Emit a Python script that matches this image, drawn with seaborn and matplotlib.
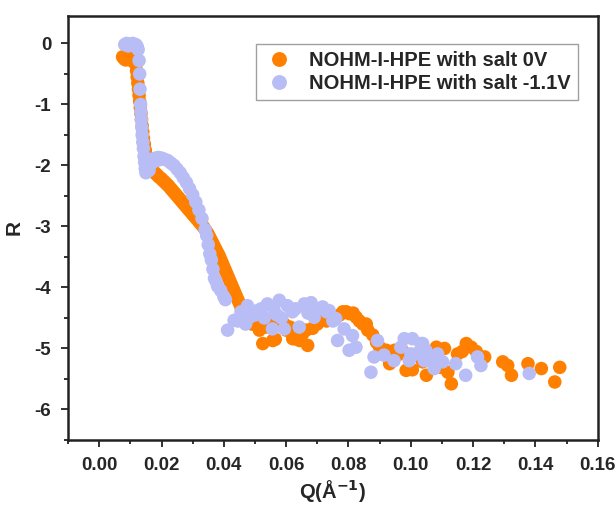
import matplotlib
matplotlib.use("Agg")
import matplotlib.pyplot as plt
import seaborn as sns
import pandas as pd
from matplotlib.ticker import MultipleLocator

# ---- data ----
q_0v = [0.0075, 0.0080, 0.0085, 0.0090, 0.0095, 0.0100, 0.0105, 0.0110,
        0.0118, 0.0120, 0.0122, 0.0124, 0.0126, 0.0128, 0.0130, 0.0132, 0.0134,
        0.0136, 0.0138, 0.0140, 0.0142, 0.0145, 0.0148, 0.0152, 0.0156,
        0.0160, 0.0165, 0.0170, 0.0175, 0.0180, 0.0185, 0.0190, 0.0195,
        0.0200, 0.0205, 0.0210, 0.0215, 0.0220, 0.0225, 0.0230, 0.0235,
        0.0240, 0.0245, 0.0250, 0.0255, 0.0260, 0.0265, 0.0270, 0.0275,
        0.0280, 0.0285, 0.0290, 0.0295, 0.0300, 0.0305, 0.0310, 0.0315,
        0.0320, 0.0325, 0.0330, 0.0335, 0.0340, 0.0345, 0.0350, 0.0355,
        0.0360, 0.0365, 0.0370, 0.0375, 0.0380, 0.0385, 0.0390, 0.0395,
        0.0400, 0.0405, 0.0410, 0.0415, 0.0420, 0.0425, 0.0430, 0.0435,
        0.0440, 0.0445, 0.0450, 0.0455, 0.0460, 0.0465, 0.0470, 0.0480,
        0.0490, 0.0505, 0.0514, 0.0525, 0.0535, 0.0546, 0.0557, 0.0565,
        0.0578, 0.0594, 0.0600, 0.0612, 0.0621, 0.0627, 0.0643, 0.0653,
        0.0664, 0.0669, 0.0685, 0.0700, 0.0717, 0.0730, 0.0749, 0.0760,
        0.0772, 0.0782, 0.0793, 0.0803, 0.0815, 0.0825, 0.0835, 0.0846,
        0.0857, 0.0862, 0.0878, 0.0890, 0.0900, 0.0921, 0.0932, 0.0948,
        0.0960, 0.0975, 0.0985, 0.0996, 0.1005, 0.1038, 0.1050, 0.1070,
        0.1082, 0.1097, 0.1108, 0.1119, 0.1130, 0.1150, 0.1165, 0.1178,
        0.1194, 0.1210, 0.1237, 0.1295, 0.1311, 0.1323, 0.1376, 0.1419,
        0.1462, 0.1478]
r_0v = [-0.22, -0.25, -0.27, -0.25, -0.26, -0.27, -0.25, -0.30,
        -0.35, -0.45, -0.55, -0.65, -0.75, -0.85, -0.95, -1.05, -1.15,
        -1.25, -1.35, -1.45, -1.55, -1.65, -1.75, -1.85, -1.92,
        -2.00, -2.04, -2.08, -2.10, -2.13, -2.15, -2.18, -2.20,
        -2.22, -2.25, -2.27, -2.30, -2.32, -2.35, -2.38, -2.41,
        -2.44, -2.47, -2.50, -2.53, -2.56, -2.59, -2.62, -2.65,
        -2.68, -2.71, -2.74, -2.77, -2.80, -2.83, -2.86, -2.89,
        -2.92, -2.95, -2.98, -3.01, -3.05, -3.09, -3.13, -3.18,
        -3.23, -3.28, -3.33, -3.38, -3.43, -3.48, -3.54, -3.60,
        -3.66, -3.72, -3.78, -3.84, -3.90, -3.96, -4.02, -4.08,
        -4.14, -4.20, -4.26, -4.32, -4.38, -4.44, -4.50, -4.55,
        -4.60, -4.62, -4.70, -4.92, -4.65, -4.57, -4.87, -4.85,
        -4.57, -4.60, -4.70, -4.65, -4.84, -4.84, -4.87, -4.76,
        -4.70, -4.95, -4.67, -4.60, -4.54, -4.55, -4.49, -4.50,
        -4.45, -4.40, -4.40, -4.43, -4.42, -4.49, -4.55, -4.60,
        -4.60, -4.70, -4.78, -4.90, -4.98, -5.03, -5.25, -5.03,
        -5.10, -5.05, -5.36, -5.33, -5.35, -5.22, -5.44, -5.05,
        -4.98, -5.31, -5.00, -5.39, -5.58, -5.09, -5.05, -4.92,
        -4.98, -5.05, -5.14, -5.22, -5.28, -5.44, -5.25, -5.33,
        -5.55, -5.31]

q_11v = [0.0082, 0.0088, 0.0093, 0.0098, 0.0103, 0.0108, 0.0113, 0.0118,
         0.0122, 0.0125, 0.0128, 0.0130, 0.0131, 0.0133, 0.0134, 0.0135,
         0.0137, 0.0138, 0.0140, 0.0142, 0.0144, 0.0146, 0.0148, 0.0150,
         0.0152, 0.0155, 0.0160, 0.0165, 0.0170, 0.0175, 0.0180, 0.0185,
         0.0190, 0.0195, 0.0200, 0.0210, 0.0220, 0.0230, 0.0240, 0.0250,
         0.0260, 0.0270, 0.0280, 0.0290, 0.0300, 0.0310, 0.0320, 0.0330,
         0.0340, 0.0345, 0.0350, 0.0355, 0.0360, 0.0365, 0.0370, 0.0375,
         0.0380, 0.0390, 0.0400, 0.0405, 0.0412, 0.0433, 0.0445, 0.0455,
         0.0460, 0.0470, 0.0476, 0.0480, 0.0492, 0.0500, 0.0508, 0.0520,
         0.0530, 0.0540, 0.0556, 0.0560, 0.0570, 0.0578, 0.0585, 0.0594,
         0.0604, 0.0620, 0.0630, 0.0642, 0.0658, 0.0670, 0.0680, 0.0690,
         0.0705, 0.0717, 0.0730, 0.0738, 0.0750, 0.0759, 0.0765, 0.0786,
         0.0802, 0.0813, 0.0824, 0.0872, 0.0882, 0.0893, 0.0914, 0.0946,
         0.0968, 0.0979, 0.0995, 0.1000, 0.1005, 0.1016, 0.1032, 0.1038,
         0.1043, 0.1048, 0.1064, 0.1075, 0.1086, 0.1102, 0.1144, 0.1176,
         0.1214, 0.1225, 0.1380]
r_11v = [-0.02, 0.00, -0.04, -0.01, -0.03, 0.00, -0.04, -0.02,
         -0.05, -0.10, -0.28, -0.50, -0.75, -1.00, -1.12, -1.25,
         -1.38, -1.50, -1.62, -1.72, -1.85, -1.95, -2.05, -2.12,
         -2.00, -1.93, -2.08, -1.98, -1.90, -1.93, -1.88, -1.92,
         -1.87, -1.90, -1.88, -1.90, -1.92, -1.96, -2.00, -2.06,
         -2.12, -2.20, -2.28, -2.38, -2.48, -2.60, -2.73, -2.87,
         -3.05, -3.15, -3.30, -3.45, -3.55, -3.70, -3.85, -3.90,
         -3.98, -4.05, -4.15, -4.20, -4.70, -4.54, -4.55, -4.40,
         -4.45, -4.60, -4.30, -4.50, -4.46, -4.45, -4.38, -4.35,
         -4.50, -4.27, -4.68, -4.35, -4.45, -4.21, -4.50, -4.68,
         -4.30, -4.40, -4.35, -4.65, -4.27, -4.42, -4.25, -4.49,
         -4.35, -4.32, -4.40, -4.38, -4.55, -4.51, -4.87, -4.68,
         -5.03, -4.79, -4.98, -5.39, -5.14, -4.87, -5.11, -5.20,
         -4.98, -4.84, -5.20, -5.09, -4.84, -5.09, -4.92, -4.92,
         -5.20, -5.03, -5.20, -5.33, -5.09, -5.22, -5.25, -5.44,
         -5.14, -5.28, -5.41]

label_0v = "NOHM-I-HPE with salt 0V"
label_11v = "NOHM-I-HPE with salt -1.1V"
color_0v = "#ff8000"
color_11v = "#b8bdf5"

df = pd.DataFrame({
    "Q": q_0v + q_11v,
    "R": r_0v + r_11v,
    "series": [label_0v] * len(q_0v) + [label_11v] * len(q_11v),
})

sns.set_theme(style="white")
plt.rcParams["font.family"] = ["Liberation Sans", "DejaVu Sans"]
plt.rcParams["font.weight"] = "bold"
plt.rcParams["mathtext.default"] = "bf"

fig = plt.figure(figsize=(6.15, 5.08), dpi=100)
ax = fig.add_axes([0.1106, 0.134, 0.8614, 0.8345])

sns.scatterplot(data=df, x="Q", y="R", hue="series",
                palette={label_0v: color_0v, label_11v: color_11v},
                s=95, linewidth=0, edgecolor="none", ax=ax, legend=True)

ax.set_xlim(-0.01, 0.16)
ax.set_ylim(-6.5, 0.45)
ax.xaxis.set_major_locator(MultipleLocator(0.02))
ax.xaxis.set_minor_locator(MultipleLocator(0.01))
ax.yaxis.set_major_locator(MultipleLocator(1))
ax.yaxis.set_minor_locator(MultipleLocator(0.5))
ax.xaxis.set_major_formatter(matplotlib.ticker.FormatStrFormatter("%.2f"))
ax.yaxis.set_major_formatter(matplotlib.ticker.FormatStrFormatter("%d"))

ax.tick_params(axis="both", which="major", direction="out", length=5, width=1.3,
               labelsize=13.5, bottom=True, left=True, top=False, right=False,
               color="#222222", pad=7)
ax.tick_params(axis="both", which="minor", direction="out", length=3, width=1.3,
               bottom=True, left=True, top=False, right=False, color="#222222")
for lab in ax.get_xticklabels() + ax.get_yticklabels():
    lab.set_fontweight("bold")

for sp in ax.spines.values():
    sp.set_linewidth(1.8)
    sp.set_color("#222222")

ax.set_xlabel("Q(Å$^{-1}$)", fontsize=14.5, fontweight="bold", labelpad=3)
ax.set_ylabel("R", fontsize=15, fontweight="bold", labelpad=8)

leg = ax.legend(loc="upper right", bbox_to_anchor=(0.962, 0.934), frameon=True,
                fancybox=False, edgecolor="#888888", markerscale=1.1,
                handletextpad=0.7, borderpad=0.35, labelspacing=0.2,
                handlelength=1.6, borderaxespad=0.0,
                prop={"weight": "bold", "size": 14.5})
leg.get_frame().set_linewidth(1.0)

fig.savefig("out.png", dpi=100)
